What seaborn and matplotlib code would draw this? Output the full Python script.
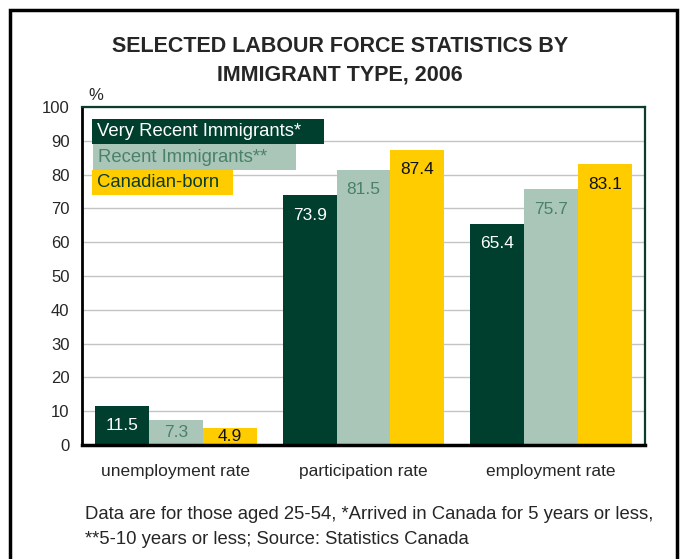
import matplotlib
matplotlib.use("Agg")
import matplotlib.pyplot as plt
from matplotlib.patches import Rectangle
import seaborn as sns
import pandas as pd

# Labour force indicators, ages 25-54, 2006 (%)
measures = ["unemployment rate", "participation rate", "employment rate"]
groups = ["Very Recent Immigrants*", "Recent Immigrants**", "Canadian-born"]
very_recent = [11.5, 73.9, 65.4]
recent = [7.3, 81.5, 75.7]
canadian_born = [4.9, 87.4, 83.1]

bar_colors = ["#003f2d", "#a9c6b9", "#ffcc00"]
label_colors = ["#ffffff", "#4b8169", "#111111"]
legend_text_colors = ["#ffffff", "#4b8169", "#0b3d2e"]

rows = []
for g, vals in zip(groups, [very_recent, recent, canadian_born]):
    for m, v in zip(measures, vals):
        rows.append({"measure": m, "group": g, "value": v})
df = pd.DataFrame(rows)

sns.set_style("white")
plt.rcParams["font.family"] = ["Liberation Sans", "DejaVu Sans"]

fig = plt.figure(figsize=(6.84, 5.59), dpi=100)
ax = fig.add_axes([82 / 684, 114 / 559, 563 / 684, 338 / 559])

sns.barplot(data=df, x="measure", y="value", hue="group", order=measures,
            hue_order=groups, palette=bar_colors, saturation=1, width=0.86,
            gap=0, legend=False, ax=ax, zorder=2, linewidth=0,
            edgecolor="none")

ax.set_ylim(0, 100)
ax.set_xlim(-0.5, 2.5)
ax.set_yticks(range(0, 101, 10))
ax.yaxis.grid(True, color="#c4c4c4", linewidth=1, zorder=0)
ax.set_axisbelow(True)
ax.set_xlabel("")
ax.set_ylabel("")
ax.tick_params(axis="y", direction="out", length=6, width=1.2, color="black",
               labelsize=12, pad=3)
ax.tick_params(axis="x", length=0, labelsize=12.5, pad=14)

for side in ["top", "right"]:
    ax.spines[side].set_color("#0b3d2e")
    ax.spines[side].set_linewidth(1.6)
ax.spines["left"].set_color("black")
ax.spines["left"].set_linewidth(2)
ax.spines["bottom"].set_color("black")
ax.spines["bottom"].set_linewidth(2.5)

# Value labels inside the top of each bar
for container, vals, col in zip(ax.containers, [very_recent, recent, canadian_born], label_colors):
    for patch, v in zip(container.patches, vals):
        xc = patch.get_x() + patch.get_width() / 2
        y = max(v - 5.9, v / 2)
        ax.text(xc, y, f"{v:.1f}", ha="center", va="center", fontsize=12.5,
                color=col, zorder=3)

# Legend drawn as coloured label blocks
legend_boxes = [
    (0.0178, 0.8905, 0.4120, 0.0740),
    (0.0195, 0.8136, 0.3606, 0.0769),
    (0.0178, 0.7396, 0.2504, 0.0740),
]
for (x0, y0, w, h), name, fc, tc in zip(legend_boxes, groups, bar_colors, legend_text_colors):
    ax.add_patch(Rectangle((x0, y0), w, h, transform=ax.transAxes,
                           facecolor=fc, edgecolor="none", zorder=4, clip_on=False))
    ax.text(x0 + 0.009, y0 + h / 2, name, transform=ax.transAxes, ha="left",
            va="center", fontsize=13.3, color=tc, zorder=5)

ax.text(0.011, 1.012, "%", transform=ax.transAxes, ha="left", va="bottom",
        fontsize=12)

fig.text(0.497, 1 - 61 / 559, "SELECTED LABOUR FORCE STATISTICS BY\nIMMIGRANT TYPE, 2006",
         ha="center", va="center", fontsize=15.5, fontweight="bold",
         linespacing=1.45)

fig.text(85 / 684, 1 - 527 / 559,
         "Data are for those aged 25-54, *Arrived in Canada for 5 years or less,\n"
         "**5-10 years or less; Source: Statistics Canada",
         ha="left", va="center", fontsize=13.3, linespacing=1.6)

fig.add_artist(Rectangle((10 / 684, -0.2), 667 / 684, 1.2 - 10 / 559,
                         transform=fig.transFigure, fill=False,
                         edgecolor="black", linewidth=2.5))

fig.savefig("out.png", dpi=100)
